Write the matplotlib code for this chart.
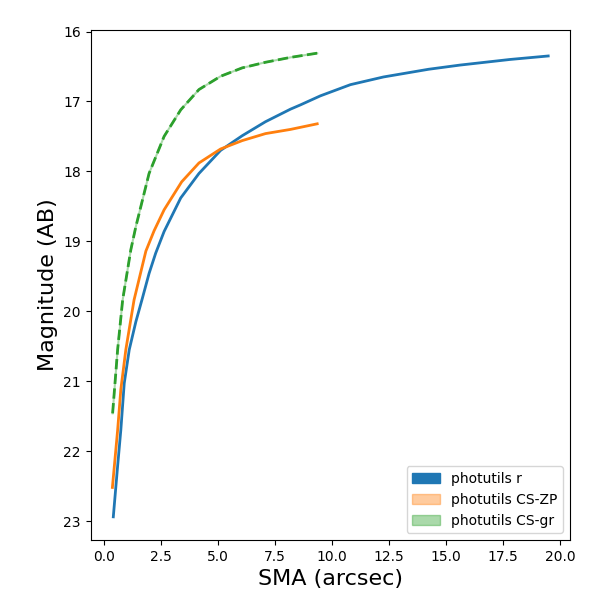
import matplotlib
matplotlib.use("Agg")
import matplotlib.pyplot as plt
from matplotlib.patches import Patch

# photutils r
sma_r = [0.40, 0.58, 0.73, 0.88, 1.10, 1.39, 1.68, 1.97, 2.26, 2.63, 3.36, 4.16, 5.11,
         6.06, 7.08, 8.18, 8.61, 9.49, 10.81, 12.26, 14.24, 15.62, 17.81, 19.49]
mag_r = [22.94, 22.25, 21.70, 21.03, 20.55, 20.15, 19.81, 19.46, 19.17, 18.86, 18.38,
         18.03, 17.70, 17.49, 17.29, 17.11, 17.05, 16.92, 16.76, 16.65, 16.54, 16.48,
         16.40, 16.35]

# photutils CS-ZP
sma_zp = [0.36, 0.59, 0.73, 0.95, 1.31, 1.83, 2.19, 2.63, 3.40, 4.16, 5.11,
          6.06, 7.08, 8.18, 9.35]
mag_zp = [22.52, 21.70, 21.12, 20.55, 19.84, 19.14, 18.85, 18.55, 18.15, 17.88, 17.68,
          17.56, 17.46, 17.40, 17.32]

# photutils CS-gr
sma_gr = [0.37, 0.59, 0.81, 1.17, 1.39, 1.97, 2.63, 3.36, 4.16, 5.11,
          6.06, 7.08, 8.18, 9.35]
mag_gr = [21.46, 20.55, 19.84, 19.12, 18.79, 18.03, 17.50, 17.12, 16.83, 16.64,
          16.52, 16.44, 16.37, 16.31]

labels = ['photutils r', 'photutils CS-ZP', 'photutils CS-gr']

fig = plt.figure(figsize=(6, 6), dpi=100)
ax = fig.add_axes([0.151, 0.10, 0.799, 0.85])

ax.plot(sma_r, mag_r, color='C0', lw=2)
ax.plot(sma_zp, mag_zp, color='C1', lw=2)
# faint band under the dashed curve
ax.plot(sma_gr, mag_gr, color='C2', lw=1.5, alpha=0.4)
ax.plot(sma_gr, mag_gr, color='C2', lw=2, ls='--')

ax.invert_yaxis()
ax.set_xlabel('SMA (arcsec)', fontsize=16)
ax.set_ylabel('Magnitude (AB)', fontsize=16)

handles = [Patch(color='C0'),
           Patch(color='C1', alpha=0.4),
           Patch(color='C2', alpha=0.4)]
ax.legend(handles, labels, loc='lower right')

fig.savefig('out.png', dpi=100)
